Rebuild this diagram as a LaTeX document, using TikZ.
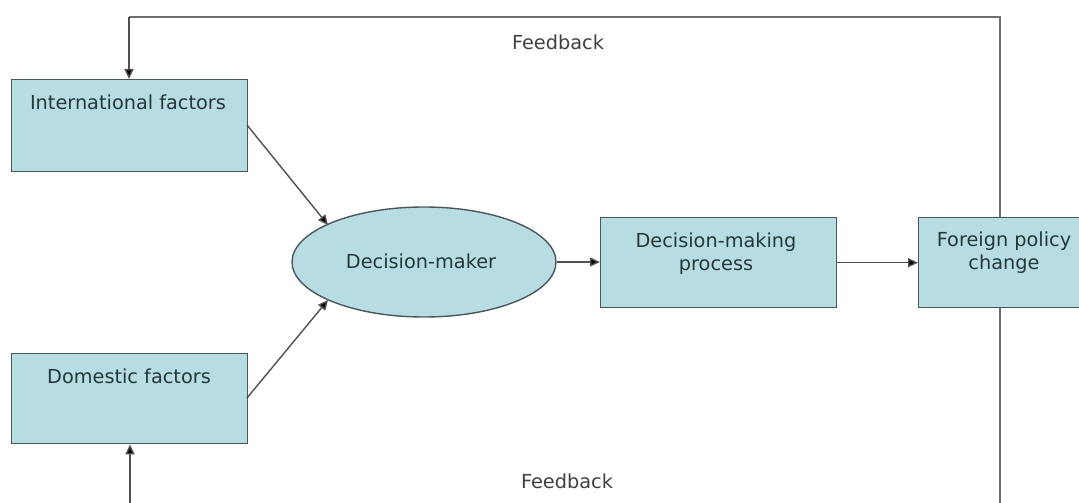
\documentclass[tikz,border=0pt]{standalone}
\usepackage{fontspec}
\setmainfont{DejaVu Sans}
\usetikzlibrary{arrows.meta,shapes.geometric}
\definecolor{boxfill}{HTML}{B7DDE3}
\definecolor{boxline}{HTML}{4A5757}
\definecolor{txt}{HTML}{243838}
\definecolor{conn}{HTML}{505050}
\definecolor{fbline}{HTML}{6E6E6E}
\begin{document}
\begin{tikzpicture}[x=1pt,y=-1pt,
  box/.style={draw=boxline, fill=boxfill, line width=1.4pt, inner sep=0pt, anchor=north west},
  oval/.style={ellipse, draw=boxline, fill=boxfill, line width=1.4pt, inner sep=0pt},
  lbl/.style={text=txt, font=\fontsize{19.3}{22.5}\selectfont, align=center, inner sep=0pt},
  fb/.style={text=black!75, font=\fontsize{19.3}{22.5}\selectfont, inner sep=0pt},
  conn/.style={draw=conn, line width=1.4pt, -{Triangle[length=10pt,width=9pt,fill=black]}},
  plain/.style={draw=fbline, line width=1.6pt}]
\clip (0,0) rectangle (1079,503);
\fill[white] (0,0) rectangle (1079,503);
% boxes
\node[box, minimum width=236pt, minimum height=92pt] (intl) at (11,79) {};
\node[box, minimum width=236pt, minimum height=90pt] (dom) at (11,353) {};
\node[oval, minimum width=264pt, minimum height=110pt] (dm) at (424,262) {};
\node[box, minimum width=236pt, minimum height=90pt] (dmp) at (600,217) {};
\node[box, minimum width=172pt, minimum height=90pt] (fpc) at (918,217) {};
% labels
\node[lbl, anchor=base] (intlT) at (128,110) {International factors};
\node[lbl, anchor=base] (domT) at (129,383) {Domestic factors};
\node[lbl, anchor=base] (dmT) at (421,268) {Decision-maker};
\node[lbl, anchor=base] (dmpT) at (716,270) {Decision-making\\process};
\node[lbl, anchor=base] (fpcT) at (1004,269) {Foreign policy\\change};
\node[fb, anchor=base] (fb1) at (558,50) {Feedback};
\node[fb, anchor=base] (fb2) at (567,488) {Feedback};
% connectors
\coordinate (iout) at (247,125);
\coordinate (dout) at (247,398);
\coordinate (itip) at (328,225);
\coordinate (dtip) at (328,300);
\draw[conn] (iout) -- (itip);
\draw[conn] (dout) -- (dtip);
\draw[conn] (dm.east) -- (dmp.west |- dm.east);
\draw[conn] (dmp.east) -- (fpc.west |- dmp.east);
% feedback loops
\coordinate (tr) at (1000,17);
\coordinate (tl) at (129,17);
\coordinate (br) at (1000,520);
\coordinate (bl) at (130,520);
\draw[plain] (fpc.north -| tr) -- (tr) -- (tl);
\draw[conn] (tl) -- (intl.north -| tl);
\draw[plain] (fpc.south -| br) -- (br) -- (bl);
\draw[conn] (bl) -- (dom.south -| bl);
\end{tikzpicture}
\end{document}
